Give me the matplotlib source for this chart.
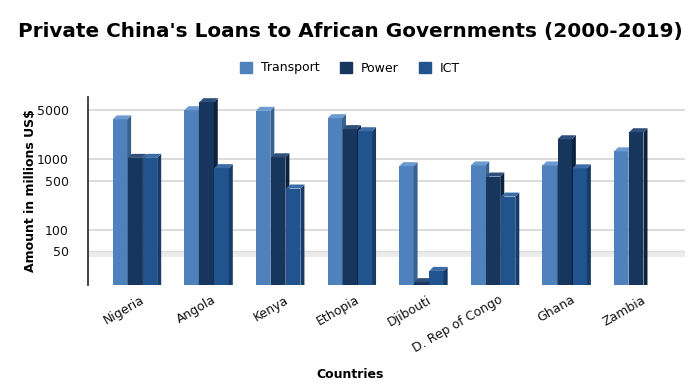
import matplotlib

matplotlib.use('Agg')
import matplotlib.pyplot as plt
from matplotlib.patches import Polygon, Patch
from matplotlib.ticker import NullLocator, FixedLocator
import numpy as np

paises = ['Nigeria', 'Angola', 'Kenya', 'Ethopia', 'Djibouti', 'D. Rep of Congo', 'Ghana', 'Zambia']
transporte = [3700, 5000, 4900, 3850, 800, 820, 820, 1300]
energia = [1050, 6500, 1070, 2690, 18, 570, 1930, 2430]
ict = [1050, 750, 385, 2510, 26, 296, 745, np.nan]

series = [('Transport', transporte), ('Power', energia), ('ICT', ict)]
# cores: frente, lado, topo
cores = {
    'Transport': ('#4f81bd', '#37618f', '#6d9ad0'),
    'Power': ('#17365d', '#0d223d', '#2e4f7a'),
    'ICT': ('#21538f', '#163b68', '#3c6ba6'),
}

y_min, y_max = 16.4, 7700
passo = 0.21
largura = 0.2
dx = 0.056
k = 10 ** (4 / 70)

fig = plt.figure(figsize=(7, 3.88), dpi=100)
ax = fig.add_axes([0.1257, 0.2655, 0.8529, 0.4845])
ax.set_yscale('log')
ax.set_ylim(y_min, y_max)
ax.set_xlim(-0.656, 7.68)

# grade e "chao" 3D
for v in [100, 500, 1000, 5000]:
    ax.axhline(v, color='#d9d9d9', lw=1.3, zorder=0)
ax.axhspan(41, 50, color='#ececec', lw=0, zorder=0)
ax.axhline(50, color='#dddddd', lw=1.0, zorder=0)

x = np.arange(len(paises))
for i, (nome, valores) in enumerate(series):
    frente, lado, topo = cores[nome]
    for j, v in enumerate(valores):
        if np.isnan(v):
            continue
        x0 = x[j] + (i - 1) * passo - largura / 2
        z = 3 + i * 2
        ax.bar(x0, v - y_min, width=largura, bottom=y_min, align='edge',
               color=frente, lw=0, zorder=z)
        ax.add_patch(Polygon([(x0 + largura, y_min), (x0 + largura + dx, y_min),
                              (x0 + largura + dx, v * k), (x0 + largura, v)],
                             closed=True, color=lado, lw=0, zorder=z))
        ax.add_patch(Polygon([(x0, v), (x0 + largura, v), (x0 + largura + dx, v * k),
                              (x0 + dx, v * k)], closed=True, color=topo, lw=0, zorder=z))

ax.yaxis.set_major_locator(FixedLocator([50, 100, 500, 1000, 5000]))
ax.yaxis.set_minor_locator(NullLocator())
ax.set_yticklabels(['50', '100', '500', '1000', '5000'])
ax.tick_params(axis='y', length=0, labelsize=9, pad=14, colors='#111111')

ax.set_xticks(x + 0.08)
ax.set_xticklabels(paises, rotation=30, ha='right', rotation_mode='anchor', fontsize=9)
ax.tick_params(axis='x', length=0, pad=6, colors='#111111')

for s in ['top', 'right', 'bottom']:
    ax.spines[s].set_visible(False)
ax.spines['left'].set_linewidth(1.2)
ax.spines['left'].set_color('#222222')

ax.set_ylabel('Amount in millions US$', fontsize=9, fontweight='bold')
ax.yaxis.set_label_coords(-0.085, 0.5)
fig.text(0.5, 1 - 375 / 388, 'Countries', ha='center', va='center', fontsize=9, fontweight='bold')

fig.suptitle("Private China's Loans to African Governments (2000-2019)", x=0.5, y=1 - 32 / 388,
             va='center', fontsize=14.4, fontweight='bold')

handles = [Patch(color=cores[n][0], label=n) for n, _ in series]
fig.legend(handles=handles, loc='center', bbox_to_anchor=(0.5, 1 - 68 / 388), ncol=3,
           frameon=False, fontsize=9, handlelength=1.0, handleheight=1.0, columnspacing=1.6,
           handletextpad=0.7)

fig.savefig('out.png', dpi=100)
